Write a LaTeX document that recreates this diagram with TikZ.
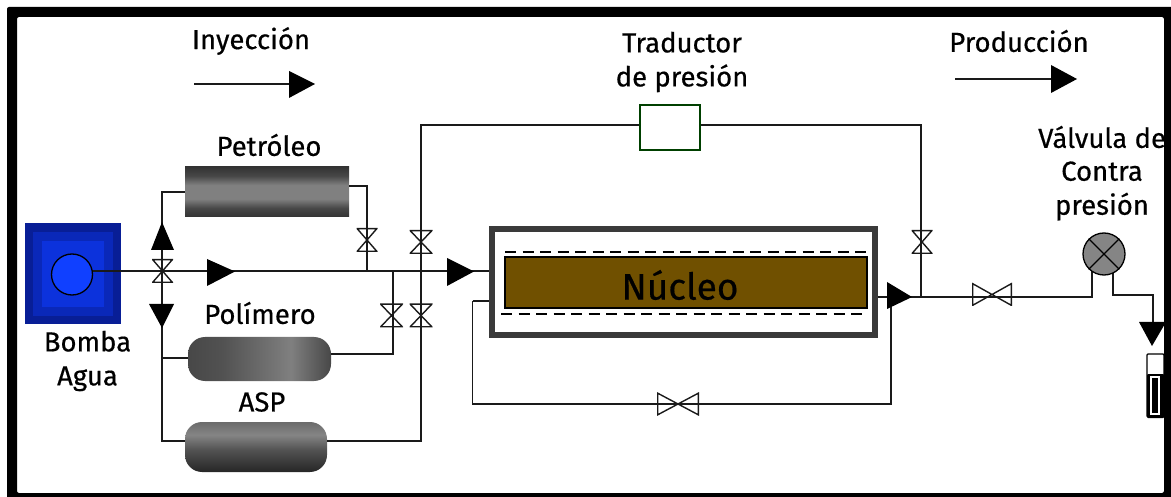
\documentclass[tikz,border=0pt]{standalone}
\usepackage{fontspec}
\setmainfont{Fira Sans}[FakeBold=0.5]
\usetikzlibrary{shapes.geometric}
\definecolor{pipe}{HTML}{1A1A1A}
\definecolor{nucleo}{HTML}{705000}
\pgfdeclareverticalshading{petshade}{100bp}{
  color(0bp)=(black!80); color(25bp)=(black!80); color(34bp)=(black!72); color(43bp)=(black!50); color(57bp)=(black!50); color(66bp)=(black!72); color(75bp)=(black!80); color(100bp)=(black!80)}
\pgfdeclarehorizontalshading{polshade}{100bp}{
  color(0bp)=(black!72); color(25bp)=(black!72); color(37bp)=(black!68); color(61bp)=(black!50); color(75bp)=(black!72); color(100bp)=(black!72)}
\pgfdeclareverticalshading{aspshade}{100bp}{
  color(0bp)=(black!85); color(25bp)=(black!85); color(47bp)=(black!68); color(62bp)=(black!48); color(75bp)=(black!58); color(100bp)=(black!58)}
\tikzset{
  x=1pt,y=-1pt,
  pipeline/.style={draw=pipe,line width=1.5pt},
  lab/.style={font=\fontsize{27.5}{34}\selectfont,align=center,inner sep=0pt,text=black},
  vvalve/.style={inner sep=0pt,minimum width=#1,minimum height=24pt,
    path picture={\draw[draw=pipe,line width=1.4pt]
      ([shift={(.7pt,.7pt)}]path picture bounding box.south west) -- ([shift={(-.7pt,-.7pt)}]path picture bounding box.north east)
      -- ([shift={(.7pt,-.7pt)}]path picture bounding box.north west) -- ([shift={(-.7pt,.7pt)}]path picture bounding box.south east) -- cycle;}},
  hvalve/.style={inner sep=0pt,minimum width=#1,minimum height=23pt,
    path picture={\draw[draw=pipe,line width=1.4pt]
      ([shift={(.7pt,.7pt)}]path picture bounding box.south west) -- ([shift={(-.7pt,-.7pt)}]path picture bounding box.north east)
      -- ([shift={(-.7pt,.7pt)}]path picture bounding box.south east) -- ([shift={(.7pt,-.7pt)}]path picture bounding box.north west) -- cycle;}},
  tank/.style={inner sep=0pt,rounded corners=17pt},
}
\begin{document}
\begin{tikzpicture}
\useasboundingbox (0,0) rectangle (1171,497);
% junction coordinates
\coordinate (pumpout) at (92,271);
\coordinate (j162t) at (162,192);
\coordinate (j162m) at (162,271);
\coordinate (j162p) at (162,358);
\coordinate (j162a) at (162,441);
\coordinate (j367t) at (367,186);
\coordinate (j367m) at (367,271);
\coordinate (j393m) at (393,271);
\coordinate (j393b) at (393,354);
\coordinate (j421t) at (421,125);
\coordinate (j421b) at (421,441);
\coordinate (j921t) at (921,125);
\coordinate (j921m) at (921,297);
\coordinate (stub1) at (491,271);
\coordinate (stub2a) at (472.5,301);
\coordinate (stub2b) at (491,301);
\coordinate (by1) at (472.5,404);
\coordinate (by2) at (891,404);
\coordinate (by3) at (891,297);
\coordinate (coreout) at (869,297);
\coordinate (g1) at (1092,297);
\coordinate (g1u) at (1092,270);
\coordinate (g2) at (1113,272);
\coordinate (g3) at (1113,295);
\coordinate (g4) at (1153,295);
\coordinate (g5) at (1153,325);
\coordinate (iny1) at (194,84);
\coordinate (iny2) at (292,84);
\coordinate (pro1) at (955,79);
\coordinate (pro2) at (1054,79);

% pump
\node[fill={rgb,255:red,8;green,30;blue,150},minimum width=96pt,minimum height=101pt,inner sep=0pt] (pump) at (72.5,274) {};
\node[fill={rgb,255:red,10;green,40;blue,185},minimum width=80pt,minimum height=84pt,inner sep=0pt] (pump2) at (72.5,274) {};
\node[fill={rgb,255:red,12;green,50;blue,220},minimum width=62pt,minimum height=66pt,inner sep=0pt] (pump3) at (72.5,274) {};
\node[circle,draw=black,line width=1.3pt,fill={rgb,255:red,16;green,64;blue,255},minimum size=41pt,inner sep=0pt] (pumpc) at (72,274.5) {};

% tanks
\node[inner sep=0pt,minimum width=164pt,minimum height=50pt,shading=petshade] (pet) at (267,192) {};
\node[tank,minimum width=143pt,minimum height=44pt,shading=polshade] (pol) at (259.5,359) {};
\node[tank,minimum width=142pt,minimum height=50pt,shading=aspshade] (asp) at (256,447) {};

% pipes
\draw[pipeline] (pumpc.east |- pumpout) -- (stub1);
\draw[pipeline] (pet.west |- j162t) -- (j162t) -- (j162a) -- (asp.west |- j162a);
\draw[pipeline] (j162p) -- (pol.west |- j162p);
\draw[pipeline] (pet.east |- j367t) -- (j367t) -- (j367m);
\draw[pipeline] (j393m) -- (j393b) -- (pol.east |- j393b);
\node[draw=green!25!black,line width=1.2pt,fill=white,minimum width=60pt,minimum height=45pt,inner sep=0pt] (trad) at (670,127.5) {};
\draw[pipeline] (trad.west |- j421t) -- (j421t) -- (j421b) -- (asp.east |- j421b);
\draw[pipeline] (trad.east |- j921t) -- (j921t) -- (j921m);
\draw[pipeline] (stub2a) -- (stub2b);
\draw[pipeline] (stub2a) -- (by1) -- (by2) -- (by3);
\draw[pipeline] (coreout) -- (g1) -- (g1u);
\draw[pipeline] (g2) -- (g3) -- (g4) -- (g5);

% core holder
\node[draw={rgb,255:red,58;green,58;blue,58},line width=6.5pt,fill=white,minimum width=383pt,minimum height=106pt,inner sep=0pt] (holder) at (683.5,282) {};
\coordinate (d1a) at (505,252); \coordinate (d1b) at (866,252);
\coordinate (d2a) at (501,314); \coordinate (d2b) at (868,314);
\draw[line width=2.8pt,dash pattern=on 11pt off 6.5pt] (d1a) -- (d1b);
\draw[line width=2.8pt,dash pattern=on 11pt off 6.5pt] (d2a) -- (d2b);
\node[draw=black,line width=1.2pt,fill=nucleo,minimum width=362pt,minimum height=51pt,inner sep=0pt] (core) at (686,282.5) {};
\node[inner sep=0pt,font=\fontsize{37}{40}\selectfont] (coretxt) at (680,285) {Núcleo};

% valves
\node[vvalve=21pt] (v1) at (162.5,271) {};
\node[vvalve=21pt] (v2) at (367,240) {};
\node[vvalve=23pt] (v3) at (421,242) {};
\node[vvalve=23pt] (v4) at (391.5,315.5) {};
\node[vvalve=23pt] (v5) at (421,315.5) {};
\node[vvalve=21pt] (v6) at (922,242) {};
\node[hvalve=42pt] (v7) at (678,404) {};
\node[hvalve=40pt] (v8) at (992,294.5) {};

% flow arrows
\fill (162,222) -- (174,250) -- (151,250) -- cycle;
\fill (149,304) -- (174,304) -- (162,328) -- cycle;
\fill (207,259) -- (235,271.5) -- (207,286) -- cycle;
\fill (447,258) -- (474,271.5) -- (447,286) -- cycle;
\fill (887,282) -- (912,297) -- (887,309) -- cycle;
\fill (1139,322) -- (1166,322) -- (1152,346) -- cycle;

% gauge
\node[circle,draw=black,line width=1.3pt,fill=black!48,minimum size=42pt,inner sep=0pt] (gauge) at (1104,254) {};
\draw[line width=1.3pt] (gauge.north west) -- (gauge.south east) (gauge.north east) -- (gauge.south west);

% collector tube
\node[draw=black,line width=1.2pt,fill=white,minimum width=17pt,minimum height=63pt,inner sep=0pt,rounded corners=1pt] (tube) at (1155.5,385.5) {};
\fill[rounded corners=1pt] (1147,374) rectangle (1164,418);
\node[draw=white,line width=1.4pt,fill=black,minimum width=8pt,minimum height=37pt,inner sep=0pt] (liq) at (1155,395.5) {};

% top arrows
\draw[pipeline] (iny1) -- (iny2);
\draw[pipeline] (pro1) -- (pro2);
\fill (289,71) -- (315,84) -- (289,98) -- cycle;
\fill (1051,65) -- (1077,79) -- (1051,93) -- cycle;

% labels
\node[lab] (t1) at (251,41) {Inyección};
\node[lab] (t2) at (1019,41) {Producción};
\node[lab] (t3) at (682,62) {Traductor\\de presión};
\node[lab] (t4) at (269,145) {Petróleo};
\node[lab] (t5) at (260,313) {Polímero};
\node[lab] (t6) at (262,402) {ASP};
\node[lab] (t7) at (87.5,361) {Bomba\\Agua};
\node[lab,anchor=west] (t8) at (1038,137) {Válvula de};
\node[lab] (t9) at (1102,191) {Contra\\presión};

% frame
\begin{scope}
\clip (0,0) rectangle (1171,497);
\fill[even odd rule,rounded corners=2pt] (7,7) rectangle (1180,505) (17,17) rectangle (1164,493);
\end{scope}
\end{tikzpicture}
\end{document}
